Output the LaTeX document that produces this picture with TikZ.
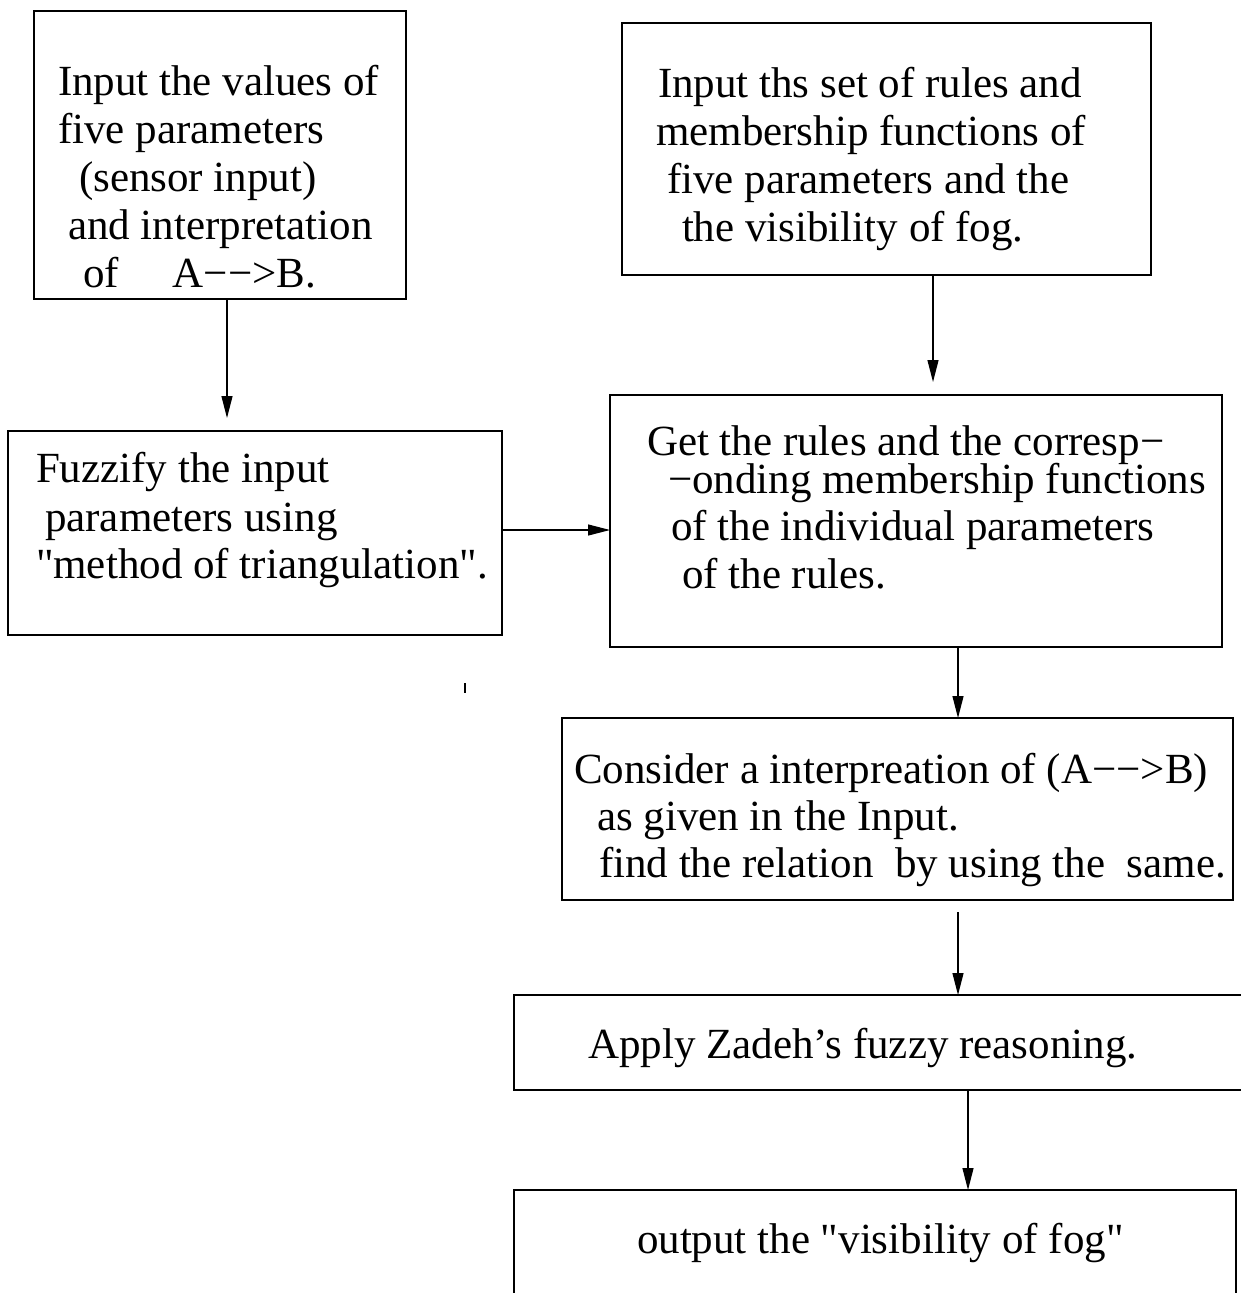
\documentclass[tikz,border=0pt]{standalone}
\usepackage{fontspec}
\setmainfont{Liberation Serif}[Ligatures=TeXOff]
\usetikzlibrary{arrows.meta}
\begin{document}
\begin{tikzpicture}[x=1pt,y=-1pt,
  box/.style={draw, line width=1.2pt, inner sep=0pt, outer sep=0pt},
  txt/.style={anchor=base west, inner sep=0pt, outer sep=0pt, font=\fontsize{43}{48}\selectfont},
  arr/.style={line width=1.2pt, -{Triangle[length=22pt,width=11pt]}}]
\useasboundingbox (0,0) rectangle (1241,1293);
% boxes
\node[box, minimum width=372pt, minimum height=288pt] (b1) at (220,155) {};
\node[box, minimum width=494pt, minimum height=204pt] (b2) at (255,533) {};
\node[box, minimum width=529pt, minimum height=252pt] (b3) at (886.5,149) {};
\node[box, minimum width=612pt, minimum height=252pt] (b4) at (916,521) {};
\node[box, minimum width=671pt, minimum height=182pt] (b5) at (897.5,809) {};
\node[box, minimum width=746pt, minimum height=95pt] (b6) at (887,1042.5) {};
\node[box, minimum width=722pt, minimum height=130pt] (b7) at (875,1255) {};
% texts
\node[txt] (t1a) at (58,95) {Input the values of};
\node[txt] (t1b) at (58,143) {five parameters};
\node[txt] (t1c) at (79,191) {(sensor input)};
\node[txt] (t1d) at (68,239) {and interpretation};
\node[txt] (t1e) at (83,287) {of\hspace{54pt}A−−>B.};
\node[txt] (t2a) at (36,482) {Fuzzify the input};
\node[txt] (t2b) at (45,531) {parameters using};
\node[txt] (t2c) at (36,578) {"method of triangulation".};
\node[txt] (t3a) at (658,97) {Input ths set of rules and};
\node[txt] (t3b) at (656,145) {membership functions of};
\node[txt] (t3c) at (667,193) {five parameters and the};
\node[txt] (t3d) at (682,241) {the visibility of fog.};
\node[txt] (t4a) at (647,455) {Get the rules and the corresp−};
\node[txt] (t4b) at (668,493) {−onding membership functions};
\node[txt] (t4c) at (671,540) {of the individual parameters};
\node[txt] (t4d) at (682,588) {of the rules.};
\node[txt] (t5a) at (574,783) {Consider a interpreation of (A−−>B)};
\node[txt] (t5b) at (597,830) {as given in the Input.};
\node[txt] (t5c) at (599,877) {find the relation\ \ by using the\ \ same.};
\node[txt] (t6) at (588,1058) {Apply Zadeh’s fuzzy reasoning.};
\node[txt] (t7) at (637,1253) {output the "visibility of fog"};
% connectors
\draw[arr, shorten >=13pt] ([xshift=7pt]b1.south) -- ([xshift=7pt]b1.south |- b2.north);
\draw[arr] ([yshift=3pt]b2.east) -- ([yshift=3pt]b2.east -| b4.west);
\draw[arr, shorten >=13pt] ([xshift=46.5pt]b3.south) -- ([xshift=46.5pt]b3.south |- b4.north);
\draw[arr] ([xshift=42pt]b4.south) -- ([xshift=42pt]b4.south |- b5.north);
\draw[arr, shorten <=12pt] ([xshift=60.5pt]b5.south) -- ([xshift=60.5pt]b5.south |- b6.north);
\draw[arr] ([xshift=81pt]b6.south) -- ([xshift=81pt]b6.south |- b7.north);
% stray tick
\coordinate (tick) at (465,683);
\draw[line width=1.2pt] (tick) -- ++(0,10);
\end{tikzpicture}
\end{document}
